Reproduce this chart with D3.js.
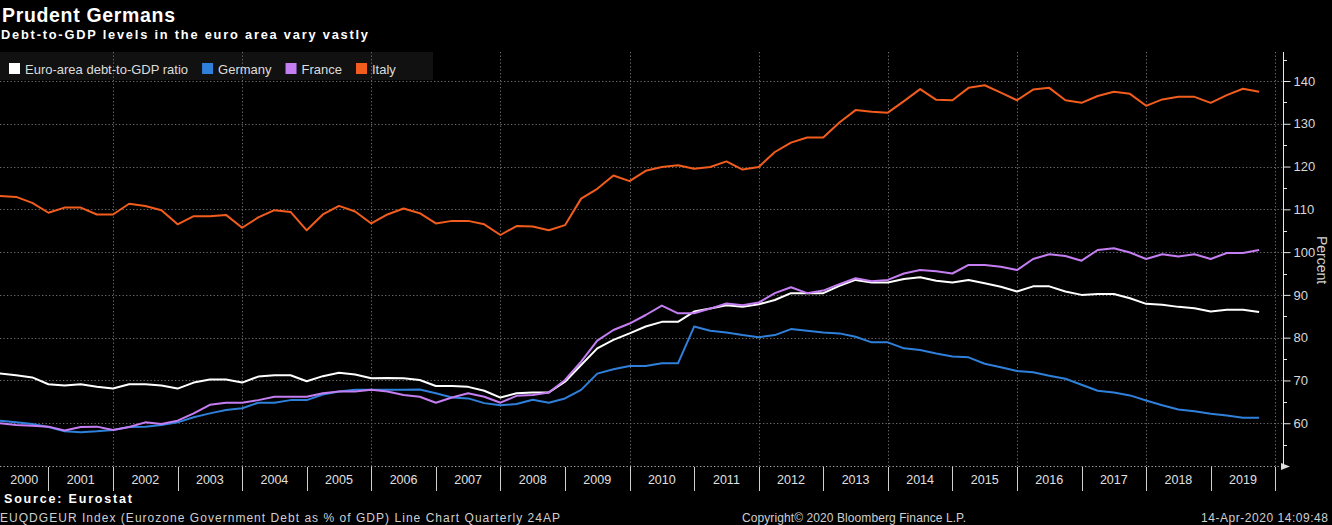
<!DOCTYPE html>
<html><head><meta charset="utf-8">
<script src="https://cdn.jsdelivr.net/npm/d3@7"></script>
<style>
body{margin:0;background:#000;overflow:hidden}
svg{display:block;background:#000}
text{font-family:"Liberation Sans",Arial,sans-serif}
</style>
</head><body>
<svg id="chart" width="1332" height="525"></svg>
<script>
// ---- data (quarterly, 2000Q2 .. 2019Q4), percent of GDP ----
const firstYear = 2000, firstQuarter = 2, lastYear = 2019, lastQuarter = 4;
const seriesNames = ["Euro-area debt-to-GDP ratio", "Germany", "France", "Italy"];
const seriesColors = ["#ffffff", "#2f80da", "#c47ef2", "#f25c1c"];
const euroArea = [71.6,71.2,70.7,69.1,68.8,69.1,68.5,68.1,69.1,69.1,68.8,68.1,69.5,70.2,70.2,69.5,70.9,
  71.2,71.2,69.8,71.0,71.8,71.4,70.5,70.6,70.5,70.1,68.7,68.7,68.5,67.6,66.0,67.0,
  67.2,67.2,69.7,73.6,77.5,79.5,81.0,82.6,83.7,83.7,86.1,86.8,87.6,87.2,87.8,88.8,
  90.4,90.4,90.4,92.1,93.5,92.9,92.9,93.7,94.1,93.3,92.9,93.5,92.7,91.9,90.8,92.0,
  92.0,90.8,90.0,90.2,90.2,89.2,87.9,87.7,87.2,86.9,86.1,86.5,86.5,86.0];
const germany = [60.6,60.2,59.8,59.1,58.1,57.9,58.1,58.4,59.1,59.2,59.6,60.2,61.4,62.3,63.1,63.5,64.8,
  64.8,65.4,65.4,66.7,67.4,67.8,67.8,67.8,67.8,67.9,67.0,66.0,65.8,64.7,64.2,64.5,
  65.5,64.8,65.8,67.8,71.6,72.6,73.4,73.4,74.0,74.0,82.6,81.6,81.2,80.6,80.1,80.6,
  82.0,81.6,81.2,81.0,80.2,78.9,78.9,77.5,77.1,76.3,75.6,75.4,73.9,73.1,72.2,71.9,
  71.1,70.4,69.0,67.6,67.2,66.5,65.3,64.2,63.2,62.8,62.2,61.8,61.3,61.3];
const france = [60.0,59.6,59.4,59.2,58.3,59.1,59.2,58.4,59.1,60.2,59.8,60.6,62.3,64.3,64.8,64.8,65.4,
  66.2,66.2,66.2,67.0,67.4,67.4,67.8,67.4,66.6,66.2,64.8,66.0,67.0,66.2,64.8,66.4,
  66.6,67.2,70.1,74.4,79.3,81.8,83.3,85.3,87.5,85.7,85.7,86.8,88.0,87.6,88.2,90.4,
  91.8,90.4,91.0,92.5,93.9,93.2,93.5,95.0,95.8,95.5,95.0,97.0,97.0,96.6,95.8,98.4,
  99.5,99.1,98.0,100.5,100.9,99.9,98.4,99.5,99.0,99.5,98.4,99.8,99.8,100.5];
const italy = [113.1,112.9,111.5,109.2,110.4,110.4,108.8,108.8,111.3,110.8,109.8,106.5,108.4,108.4,108.7,105.7,108.1,
  109.8,109.4,105.1,108.8,110.8,109.5,106.7,108.8,110.2,109.1,106.7,107.3,107.3,106.5,104.0,106.1,
  106.0,105.1,106.3,112.5,114.8,117.9,116.6,119.0,119.9,120.3,119.5,119.9,121.2,119.3,119.9,123.4,
  125.6,126.8,126.8,130.3,133.2,132.8,132.6,135.3,138.1,135.6,135.5,138.4,139.0,137.3,135.5,138.0,
  138.4,135.5,134.9,136.5,137.5,137.0,134.2,135.7,136.3,136.3,134.9,136.7,138.2,137.5];
const yearLabels = ["2000","2001","2002","2003","2004","2005","2006","2007","2008","2009",
  "2010","2011","2012","2013","2014","2015","2016","2017","2018","2019"];
const yTickValues = [60,70,80,90,100,110,120,130,140];
const yMinorTicks = [55,65,75,85,95,105,115,125,135,145];
const gridYears = [2002,2004,2006,2008,2010,2012,2014,2016,2018,2020];

// quarter time positions (year + fraction)
const quarters = [];
for (let yr = firstYear; yr <= lastYear; yr++) {
  for (let q = 1; q <= 4; q++) {
    if (yr === firstYear && q < firstQuarter) continue;
    if (yr === lastYear && q > lastQuarter) continue;
    quarters.push(yr + (q - 1) / 4);
  }
}
const allSeries = [euroArea, germany, france, italy];

// ---- layout ----
const svg = d3.select("#chart");
const plotL = 0, plotR = 1283, plotT = 52, plotB = 466;
const x = d3.scaleLinear().domain([2000.25, 2020.12]).range([plotL, plotR]);
const y = d3.scaleLinear().domain([50, 140]).range([plotB, 81]);

// title
svg.append("text").attr("x", 2).attr("y", 22).attr("fill", "#fff")
  .attr("font-size", 19.5).attr("font-weight", "bold")
  .attr("textLength", 173).attr("lengthAdjust", "spacing")
  .text("Prudent Germans");
svg.append("text").attr("x", 1).attr("y", 39).attr("fill", "#fff")
  .attr("font-family", "DejaVu Sans, Verdana, sans-serif")
  .attr("font-size", 12.8).attr("font-weight", "bold")
  .attr("textLength", 367).attr("lengthAdjust", "spacing")
  .text("Debt-to-GDP levels in the euro area vary vastly");

// legend box (behind grid)
svg.append("rect").attr("x", 0).attr("y", plotT).attr("width", 433).attr("height", 28)
  .attr("fill", "#111");

// grid
const grid = svg.append("g").attr("stroke", "#6a6a6a").attr("stroke-width", 1)
  .attr("stroke-dasharray", "1.3,2.2");
grid.selectAll("line.h").data(yTickValues).join("line")
  .attr("x1", plotL).attr("x2", plotR)
  .attr("y1", d => Math.round(y(d)) + 0.5).attr("y2", d => Math.round(y(d)) + 0.5);
grid.selectAll("line.v").data(gridYears).join("line")
  .attr("x1", d => Math.round(x(d)) + 0.5).attr("x2", d => Math.round(x(d)) + 0.5)
  .attr("y1", plotT).attr("y2", plotB);

// x axis line
svg.append("line").attr("x1", plotL).attr("x2", plotR).attr("y1", plotB + 0.5).attr("y2", plotB + 0.5)
  .attr("stroke", "#a8a8a8").attr("stroke-width", 1).attr("stroke-dasharray", "1.3,2.2");
svg.append("path").attr("d", `M${plotR - 2},${plotB - 3} L${plotR + 7},${plotB + 0.5} L${plotR - 2},${plotB + 4} Z`)
  .attr("fill", "#ddd");

// year separators & labels
const years = yearLabels.map(Number);
svg.append("g").selectAll("line").data(years.map(d => d + 1)).join("line")
  .attr("x1", d => Math.round(x(d)) + 0.5).attr("x2", d => Math.round(x(d)) + 0.5)
  .attr("y1", plotB + 1).attr("y2", 491).attr("stroke", "#cfcfcf").attr("stroke-width", 1);
svg.append("g").selectAll("text").data(yearLabels).join("text")
  .attr("x", d => (Math.max(plotL, x(+d)) + Math.min(plotR, x(+d + 1))) / 2)
  .attr("y", 484).attr("text-anchor", "middle").attr("fill", "#e0e0e0").attr("font-size", 12.5)
  .text(d => d);

// lines
svg.append("clipPath").attr("id", "clip").append("rect")
  .attr("x", plotL).attr("y", plotT).attr("width", plotR - plotL).attr("height", plotB - plotT);
const line = d3.line().x((d, i) => x(quarters[i])).y(d => y(d));
svg.append("g").attr("clip-path", "url(#clip)").selectAll("path").data(allSeries).join("path")
  .attr("d", d => line(d)).attr("fill", "none")
  .attr("stroke", (d, i) => seriesColors[i]).attr("stroke-width", 2)
  .attr("stroke-linejoin", "round");

// y axis (right)
const yAxis = d3.axisRight(y).tickValues(yTickValues).tickSize(7).tickPadding(3);
const gy = svg.append("g").attr("transform", `translate(${plotR + 0.5},0)`).call(yAxis);
gy.select(".domain").remove();
gy.selectAll(".tick line").attr("stroke", "#e8e8e8");
gy.selectAll(".tick text").attr("fill", "#d8d8d8").attr("font-size", 13)
  .attr("font-family", "Liberation Sans, Arial, sans-serif");
svg.append("g").selectAll("line").data(yMinorTicks).join("line")
  .attr("x1", plotR).attr("x2", plotR + 4)
  .attr("y1", d => Math.round(y(d)) + 0.5).attr("y2", d => Math.round(y(d)) + 0.5)
  .attr("stroke", "#e8e8e8");
svg.append("line").attr("x1", plotR + 0.5).attr("x2", plotR + 0.5).attr("y1", plotT).attr("y2", plotB + 1)
  .attr("stroke", "#e8e8e8").attr("stroke-width", 1);
svg.append("text").attr("transform", `translate(1317,260) rotate(90)`)
  .attr("text-anchor", "middle").attr("fill", "#cfcfcf").attr("font-size", 14).text("Percent");

// legend items
const lg = svg.append("g");
let lx = 9;
seriesNames.forEach((name, i) => {
  lg.append("rect").attr("x", lx).attr("y", 63).attr("width", 11).attr("height", 11)
    .attr("fill", seriesColors[i]);
  const t = lg.append("text").attr("x", lx + 16).attr("y", 74).attr("fill", "#dcdcdc")
    .attr("font-size", 13).text(name);
  lx = lx + 16 + t.node().getComputedTextLength() + 14;
});

// footer
svg.append("text").attr("x", 4).attr("y", 503).attr("fill", "#fff").attr("font-size", 12.5)
  .attr("font-family", "DejaVu Sans, Verdana, sans-serif")
  .attr("font-weight", "bold").attr("textLength", 128).attr("lengthAdjust", "spacing")
  .text("Source:  Eurostat");
svg.append("text").attr("x", 0).attr("y", 522).attr("fill", "#cfcfcf").attr("font-size", 12)
  .attr("textLength", 560).attr("lengthAdjust", "spacing")
  .text("EUQDGEUR Index (Eurozone Government Debt as % of GDP) Line Chart  Quarterly 24AP");
svg.append("text").attr("x", 742).attr("y", 522).attr("fill", "#cfcfcf").attr("font-size", 12)
  .attr("textLength", 224).attr("lengthAdjust", "spacing")
  .text("Copyright\u00a9 2020 Bloomberg Finance L.P.");
svg.append("text").attr("x", 1201).attr("y", 522).attr("fill", "#cfcfcf").attr("font-size", 12)
  .attr("textLength", 127).attr("lengthAdjust", "spacing")
  .text("14-Apr-2020 14:09:48");
</script>
</body></html>
